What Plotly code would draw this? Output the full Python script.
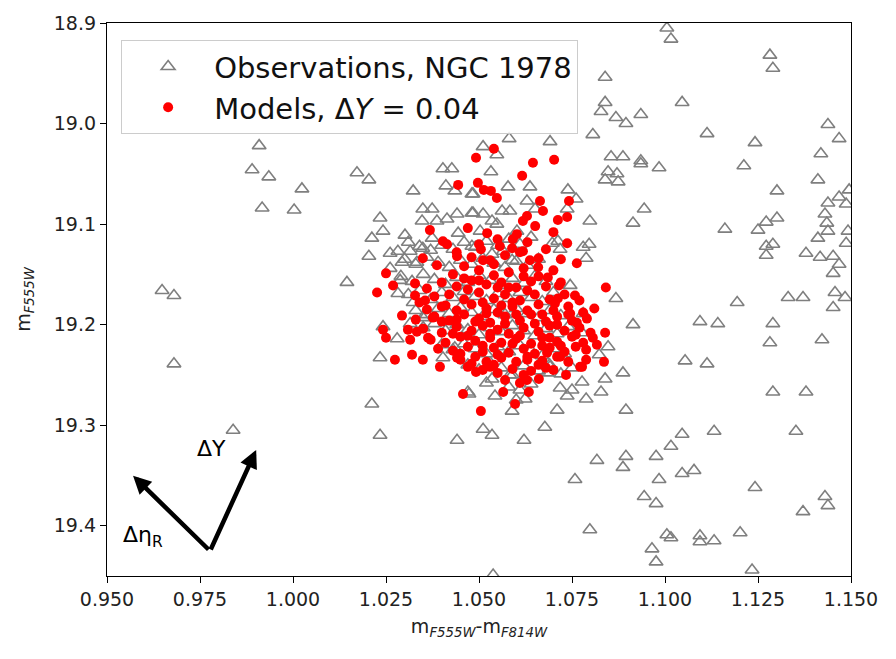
import plotly.graph_objects as go

# ---------------- data ----------------
obs_color = [
    0.9909, 0.9890, 0.9935, 1.0024, 0.9917, 1.0003, 1.0172, 1.0204, 1.0323, 0.9648,
    0.9680, 1.0145, 1.0234, 1.0242, 1.0212, 1.0301, 1.0204, 0.9680, 0.9839, 1.0212,
    1.0234, 1.0242, 1.0280, 1.0234,
    1.1005, 1.1016, 1.1282, 1.1290, 1.0839, 1.0839, 1.0828, 1.0868, 1.0895, 1.0935,
    1.1046, 1.0806, 1.1113, 1.1242, 1.1438, 1.1468, 1.1419, 1.1411, 1.1212, 1.0855,
    1.0887, 1.0935, 1.0935, 1.0984, 1.0847, 1.0871, 1.0839, 1.0874, 1.1301, 1.1438,
    1.1468, 1.1487, 1.1495, 1.1430, 1.1435, 1.1438, 1.1411, 1.1492, 1.1487, 1.1379,
    1.1417, 1.1452, 1.1468, 1.1452, 1.1457, 1.1484, 1.1452, 1.1331, 1.1371, 1.0944,
    1.0914, 1.1161, 1.1250, 1.1272, 1.1301, 1.1272, 1.1290, 1.1272, 1.1194, 1.0868,
    1.0914, 1.1094, 1.1142, 1.1290, 1.0798, 1.0796, 1.0780, 1.0788, 1.0739, 1.0761,
    1.0737, 1.0712, 1.0745, 1.0780, 1.0581, 1.0691, 1.0511, 1.0548, 1.0532,
    1.1282, 1.1422, 1.1054, 1.1113, 1.1290, 1.1379, 1.0887, 1.0895, 1.0839, 1.0828,
    1.0788, 1.0847, 1.0823, 1.0777, 1.0777, 1.0750, 1.0718, 1.0737, 1.0710, 1.0677,
    1.0621, 1.0535, 1.0511, 1.0441, 1.0589, 1.0610, 1.0624, 1.0543, 1.0473, 1.0535,
    1.1132, 1.1046, 1.1016, 1.0976, 1.0895, 1.0887, 1.0817, 1.0758, 1.0984, 1.1046,
    1.1078, 1.0944, 1.0976, 1.1242, 1.1352, 1.1430, 1.1438, 1.1371, 1.0798, 1.0965,
    1.0976, 1.1005, 1.1016, 1.1094, 1.1094, 1.1132, 1.1202, 1.1234, 1.0538,
    1.0403, 1.0427, 1.0411, 1.0435, 1.0481, 1.0349, 1.0374, 1.0347, 1.0387, 1.0414,
    1.0441, 1.0481, 1.0444, 1.0374, 1.0349, 1.0261, 1.0282, 1.0315, 1.0293, 1.0333,
    1.0261, 1.0578, 1.0637, 1.0484, 1.0629, 1.0651, 1.0484, 1.0511, 1.0562, 1.0583,
    1.0535, 1.0548, 1.0503, 1.0602, 1.0697, 1.0718, 1.0481, 1.0535, 1.0565, 1.0589,
    1.0288, 1.0282, 1.0323, 1.0315, 1.0349, 1.0403, 1.0435, 1.0470, 1.0583, 1.0691,
    1.0683,
    1.031, 1.034, 1.037, 1.040, 1.043, 1.046, 1.049, 1.052, 1.055, 1.058, 1.061, 1.064,
    1.030, 1.033, 1.036, 1.039, 1.042, 1.045, 1.048, 1.051, 1.054, 1.057, 1.060, 1.063, 1.066,
    1.029, 1.032, 1.035, 1.038, 1.041, 1.044, 1.047, 1.050, 1.053, 1.056, 1.059, 1.062, 1.065, 1.068,
    1.031, 1.034, 1.037, 1.040, 1.043, 1.046, 1.049, 1.052, 1.055, 1.058, 1.061, 1.064, 1.067, 1.070,
    1.033, 1.036, 1.039, 1.042, 1.045, 1.048, 1.051, 1.054, 1.057, 1.060, 1.063, 1.066, 1.069, 1.072,
    1.035, 1.038, 1.041, 1.044, 1.047, 1.050, 1.053, 1.056, 1.059, 1.062, 1.065, 1.068, 1.071, 1.074,
    1.040, 1.043, 1.046, 1.049, 1.052, 1.055, 1.058, 1.061, 1.064, 1.067, 1.070, 1.073,
    1.047, 1.050, 1.053, 1.056, 1.059, 1.062, 1.066, 1.069, 1.072, 1.075,
    1.052, 1.058, 1.064, 1.060,
]
obs_mag = [
    19.022, 19.046, 19.053, 19.065, 19.084, 19.086, 19.049, 19.056, 19.067, 19.166,
    19.171, 19.158, 19.094, 19.107, 19.114, 19.111, 19.132, 19.239, 19.305, 19.279,
    19.310, 19.202, 19.214, 19.233,
    18.905, 18.916, 18.932, 18.945, 18.954, 18.979, 18.988, 18.994, 19.000, 18.991,
    18.979, 19.011, 19.010, 19.019, 19.001, 19.015, 19.030, 19.056, 19.042, 19.033,
    19.033, 19.037, 19.040, 19.044, 19.048, 19.050, 19.056, 19.058, 19.067, 19.079,
    19.073, 19.080, 19.066, 19.090, 19.099, 19.107, 19.114, 19.107, 19.119, 19.129,
    19.133, 19.132, 19.140, 19.149, 19.168, 19.173, 19.183, 19.173, 19.173, 19.085,
    19.099, 19.105, 19.106, 19.098, 19.094, 19.122, 19.120, 19.131, 19.178, 19.174,
    19.200, 19.197, 19.199, 19.199, 19.097, 19.120, 19.123, 19.134, 19.066, 19.075,
    19.085, 19.117, 19.161, 19.189, 19.015, 19.018, 19.023, 19.031, 19.048,
    19.218, 19.215, 19.236, 19.239, 19.267, 19.267, 19.248, 19.285, 19.254, 19.267,
    19.274, 19.222, 19.230, 19.208, 19.257, 19.265, 19.263, 19.271, 19.285, 19.302,
    19.315, 19.310, 19.304, 19.315, 19.286, 19.265, 19.274, 19.271, 19.269, 19.254,
    19.306, 19.309, 19.321, 19.331, 19.331, 19.342, 19.335, 19.354, 19.354, 19.348,
    19.345, 19.371, 19.378, 19.362, 19.306, 19.371, 19.380, 19.386, 19.404, 19.423,
    19.436, 19.409, 19.412, 19.410, 19.416, 19.415, 19.407, 19.444, 19.449,
    19.045, 19.045, 19.062, 19.067, 19.070, 19.085, 19.085, 19.097, 19.097, 19.095,
    19.090, 19.089, 19.109, 19.114, 19.124, 19.129, 19.127, 19.127, 19.138, 19.138,
    19.144, 19.063, 19.063, 19.070, 19.077, 19.085, 19.089, 19.090, 19.087, 19.087,
    19.097, 19.100, 19.107, 19.107, 19.119, 19.125, 19.122, 19.130, 19.127, 19.136,
    19.156, 19.169, 19.178, 19.199, 19.193, 19.233, 19.223, 19.267, 19.250, 19.242,
    19.248,
    19.118, 19.122, 19.126, 19.121, 19.125, 19.118, 19.123, 19.117, 19.121, 19.115, 19.120, 19.113,
    19.135, 19.140, 19.133, 19.138, 19.143, 19.136, 19.140, 19.134, 19.139, 19.143, 19.137, 19.141, 19.135,
    19.152, 19.157, 19.150, 19.155, 19.160, 19.153, 19.158, 19.151, 19.156, 19.161, 19.154, 19.159, 19.152, 19.157,
    19.170, 19.166, 19.175, 19.168, 19.173, 19.167, 19.172, 19.176, 19.169, 19.174, 19.168, 19.173, 19.177, 19.168,
    19.186, 19.190, 19.184, 19.189, 19.183, 19.188, 19.192, 19.185, 19.190, 19.184, 19.189, 19.193, 19.186, 19.191,
    19.203, 19.199, 19.206, 19.200, 19.205, 19.210, 19.203, 19.207, 19.201, 19.206, 19.211, 19.204, 19.209, 19.202,
    19.220, 19.225, 19.219, 19.224, 19.229, 19.222, 19.227, 19.221, 19.226, 19.231, 19.224, 19.229,
    19.240, 19.245, 19.238, 19.243, 19.250, 19.241, 19.246, 19.240, 19.249, 19.243,
    19.258, 19.262, 19.259, 19.275,
]

model_color = [
    1.0540, 1.0492, 1.0702, 1.0645, 1.0616, 1.0444, 1.0497, 1.0513, 1.0532, 1.0548,
    1.0664, 1.0742, 1.0672, 1.0629, 1.0712, 1.0737, 1.0470, 1.0368, 1.0651, 1.0618,
    1.0602, 1.0591, 1.0522, 1.0403, 1.0414, 1.0556, 1.0737, 1.0505, 1.0589, 1.0618,
    1.0441, 1.0637, 1.0763, 1.0659, 1.0685, 1.0250, 1.0226, 1.0269, 1.0328, 1.0387,
    1.0841, 1.0715, 1.0758, 1.0293, 1.0242, 1.0250, 1.0315, 1.0274, 1.0320, 1.0349,
    1.0395, 1.0470, 1.0492, 1.0839, 1.0806, 1.0817, 1.0788, 1.0836, 1.0772, 1.0734,
    1.0661, 1.0629, 1.0565, 1.0634, 1.0457, 1.0597, 1.0505, 1.0788,
    1.046, 1.050, 1.054, 1.058, 1.062, 1.070, 1.043, 1.066,
    1.040, 1.044, 1.048, 1.052, 1.056, 1.060, 1.064, 1.068, 1.072, 1.036,
    1.038, 1.042, 1.046, 1.050, 1.054, 1.057, 1.061, 1.065, 1.069, 1.073, 1.077, 1.034,
    1.036, 1.040, 1.044, 1.048, 1.052, 1.055, 1.059, 1.063, 1.066, 1.070, 1.074, 1.078, 1.081,
    1.033, 1.038, 1.042, 1.046, 1.050, 1.053, 1.057, 1.061, 1.064, 1.068, 1.071, 1.075, 1.079,
    1.035, 1.040, 1.044, 1.048, 1.051, 1.055, 1.058, 1.062, 1.066, 1.069, 1.073, 1.077, 1.080,
    1.037, 1.041, 1.045, 1.049, 1.053, 1.056, 1.060, 1.064, 1.067, 1.071, 1.075, 1.078,
    1.043, 1.047, 1.051, 1.054, 1.058, 1.062, 1.065, 1.069, 1.073, 1.076, 1.039,
    1.045, 1.049, 1.052, 1.056, 1.060, 1.063, 1.067, 1.071, 1.074,
    1.051, 1.055, 1.059, 1.064, 1.068, 1.057, 1.061,
    1.044, 1.048, 1.053, 1.057, 1.061, 1.066, 1.050, 1.055, 1.063, 1.068, 1.070, 1.072,
    1.0712, 1.0704, 1.0745, 1.0763, 1.0777, 1.0530, 1.0718, 1.0683,
    1.0328, 1.0355, 1.0376, 1.0309, 1.0333, 1.0363, 1.0441, 1.0511, 1.0349,
    1.047, 1.051, 1.055, 1.059, 1.063, 1.067, 1.049, 1.053, 1.057, 1.061,
    1.065, 1.069, 1.047, 1.051, 1.055, 1.059, 1.063, 1.067, 1.045, 1.060,
    1.056, 1.052, 1.044, 1.041, 1.071, 1.072, 1.062, 1.054, 1.048, 1.066,
    1.070, 1.074, 1.076, 1.043, 1.040, 1.058, 1.062, 1.054, 1.050, 1.046,
]
model_mag = [
    19.025, 19.034, 19.036, 19.039, 19.052, 19.061, 19.059, 19.066, 19.067, 19.074,
    19.077, 19.077, 19.087, 19.092, 19.096, 19.093, 19.104, 19.106, 19.102, 19.097,
    19.110, 19.115, 19.109, 19.117, 19.120, 19.122, 19.119, 19.125, 19.124, 19.127,
    19.132, 19.136, 19.139, 19.143, 19.153, 19.149, 19.168, 19.161, 19.159, 19.141,
    19.163, 19.161, 19.171, 19.191, 19.205, 19.213, 19.215, 19.235, 19.230, 19.235,
    19.242, 19.242, 19.247, 19.208, 19.213, 19.220, 19.225, 19.237, 19.242, 19.250,
    19.254, 19.255, 19.267, 19.267, 19.269, 19.279, 19.286, 19.235,
    19.142, 19.146, 19.140, 19.148, 19.144, 19.146, 19.150, 19.152,
    19.158, 19.162, 19.156, 19.160, 19.158, 19.163, 19.157, 19.162, 19.158, 19.164,
    19.172, 19.170, 19.175, 19.168, 19.174, 19.170, 19.176, 19.170, 19.175, 19.170, 19.176, 19.178,
    19.185, 19.182, 19.186, 19.180, 19.184, 19.188, 19.182, 19.186, 19.180, 19.186, 19.182, 19.188, 19.184,
    19.195, 19.192, 19.196, 19.190, 19.194, 19.198, 19.192, 19.196, 19.190, 19.197, 19.192, 19.196, 19.194,
    19.204, 19.208, 19.202, 19.206, 19.201, 19.205, 19.209, 19.203, 19.207, 19.201, 19.206, 19.203, 19.208,
    19.215, 19.218, 19.212, 19.216, 19.213, 19.218, 19.214, 19.219, 19.213, 19.217, 19.212, 19.218,
    19.226, 19.222, 19.227, 19.223, 19.228, 19.224, 19.229, 19.223, 19.227, 19.222, 19.224,
    19.235, 19.232, 19.237, 19.233, 19.237, 19.232, 19.236, 19.232, 19.237,
    19.245, 19.248, 19.244, 19.246, 19.243, 19.255, 19.258,
    19.128, 19.133, 19.136, 19.131, 19.128, 19.134, 19.120, 19.115, 19.118, 19.125, 19.108, 19.135,
    19.174, 19.179, 19.189, 19.198, 19.242, 19.242, 19.232, 19.228,
    19.171, 19.176, 19.193, 19.205, 19.207, 19.213, 19.233, 19.136, 19.134,
    19.165, 19.178, 19.163, 19.178, 19.166, 19.190, 19.197, 19.209, 19.199, 19.211,
    19.199, 19.213, 19.211, 19.221, 19.230, 19.219, 19.235, 19.221, 19.229, 19.190,
    19.181, 19.189, 19.195, 19.181, 19.200, 19.221, 19.250, 19.240, 19.239, 19.240,
    19.245, 19.190, 19.210, 19.209, 19.197, 19.163, 19.152, 19.151, 19.156, 19.154,
]

x_ticks = [0.950, 0.975, 1.000, 1.025, 1.050, 1.075, 1.100, 1.125, 1.150]
y_ticks = [18.9, 19.0, 19.1, 19.2, 19.3, 19.4]
x_range = [0.950, 1.150]
y_range = [19.45, 18.9]

FONT = "DejaVu Sans"

fig = go.Figure()
fig.add_trace(go.Scatter(
    x=obs_color, y=obs_mag, mode="markers",
    name="Observations, NGC 1978",
    marker=dict(symbol="triangle-up-open", size=12, color="#7f7f7f",
                line=dict(width=1.6, color="#7f7f7f")),
))
fig.add_trace(go.Scatter(
    x=model_color, y=model_mag, mode="markers",
    name="Models, \u0394<i>Y</i> = 0.04",
    marker=dict(symbol="circle", size=10, color="#ff0000", line=dict(width=0)),
))

# direction arrows (annotation, not data)
arrow_origin = (0.9777, 19.4251)
fig.add_annotation(x=0.9901, y=19.3246, ax=arrow_origin[0], ay=arrow_origin[1],
                   xref="x", yref="y", axref="x", ayref="y", text="",
                   showarrow=True, arrowhead=2, arrowsize=0.8, arrowwidth=4.5,
                   arrowcolor="black")
fig.add_annotation(x=0.9570, y=19.3502, ax=arrow_origin[0], ay=arrow_origin[1],
                   xref="x", yref="y", axref="x", ayref="y", text="",
                   showarrow=True, arrowhead=2, arrowsize=0.8, arrowwidth=4.5,
                   arrowcolor="black")
fig.add_annotation(x=0.9782, y=19.3227, xref="x", yref="y", text="\u0394Y",
                   showarrow=False, font=dict(family=FONT, size=22, color="black"))
fig.add_annotation(x=0.9597, y=19.411, xref="x", yref="y", text="\u0394\u03b7<sub>R</sub>",
                   showarrow=False, font=dict(family=FONT, size=22, color="black"))

axis_common = dict(showline=True, linecolor="black", linewidth=1.3, mirror=True,
                   ticks="outside", ticklen=6, tickwidth=1.3, tickcolor="black",
                   showgrid=False, zeroline=False,
                   tickfont=dict(family=FONT, size=19, color="#222222"))

fig.update_xaxes(range=x_range, tickvals=x_ticks,
                 ticktext=[f"{v:.3f}" for v in x_ticks],
                 title=dict(text="m<sub><i>F555W</i></sub>-m<sub><i>F814W</i></sub>",
                            font=dict(family=FONT, size=19, color="#222222"), standoff=10),
                 **axis_common)
fig.update_yaxes(range=y_range, tickvals=y_ticks,
                 ticktext=[f"{v:.1f}" for v in y_ticks],
                 title=dict(text="m<sub><i>F555W</i></sub>",
                            font=dict(family=FONT, size=19, color="#222222"), standoff=18),
                 **axis_common)

fig.update_layout(
    width=896, height=659,
    margin=dict(l=107, r=45, t=20, b=83),
    plot_bgcolor="white", paper_bgcolor="white",
    showlegend=True,
    legend=dict(x=0.019, y=0.969, xanchor="left", yanchor="top",
                bgcolor="rgba(255,255,255,0.85)", bordercolor="#cccccc", borderwidth=1,
                font=dict(family=FONT, size=29, color="#111111"),
                itemwidth=82, tracegroupgap=0),
    font=dict(family=FONT),
)

fig.write_html("out.html")
